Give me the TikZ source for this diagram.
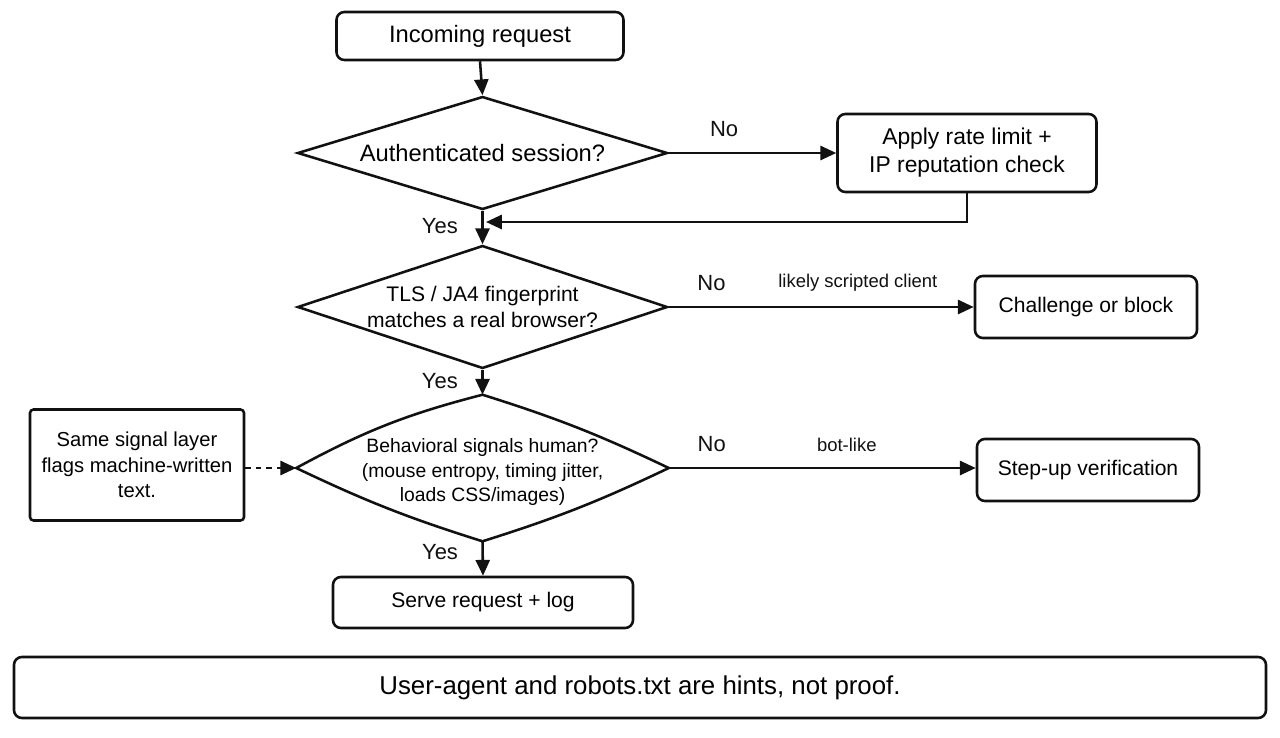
\documentclass[tikz,border=0pt]{standalone}
\usepackage{fontspec}
\setmainfont{Liberation Sans}
\usepackage{xcolor}
\usepackage{tikz}
\usetikzlibrary{arrows.meta,shapes.geometric}
\definecolor{FlowInk}{HTML}{111111}
\definecolor{FlowPaper}{HTML}{FFFFFF}

\tikzset{
  box/.style={draw=FlowInk,line width=1.45pt,rounded corners=4.5pt,fill=FlowPaper,
    align=center,font=\fontsize{12}{15}\selectfont,inner sep=0pt},
  decision/.style={draw=FlowInk,line width=1.45pt,diamond,inner sep=0pt,fill=FlowPaper},
  dtext/.style={align=center,inner sep=0pt,font=\fontsize{12}{15}\selectfont},
  arrow/.style={draw=FlowInk,line width=1.45pt,-{Triangle[length=9pt,width=8pt]}},
  answer/.style={font=\fontsize{12.5}{14}\selectfont,text=FlowInk},
  reason/.style={font=\fontsize{10.5}{12}\selectfont,text=FlowInk},
}

\begin{document}
\begin{tikzpicture}
    \useasboundingbox[fill=FlowPaper] (0,0) rectangle (25.6,-14.74);

    % main column
    \node[box,minimum width=5.74cm,minimum height=0.96cm,font=\fontsize{13.5}{16}\selectfont] (incoming) at (9.6,-0.72) {Incoming request};
    \node[decision,minimum width=7.4cm,minimum height=2.26cm] (auth) at (9.65,-3.06) {};
    \node[dtext,font=\fontsize{13.5}{16}\selectfont] (authtext) at (auth) {Authenticated session?};
    \node[decision,minimum width=7.4cm,minimum height=2.46cm] (tls) at (9.65,-6.14) {};
    \node[dtext] (tlstext) at (tls) {TLS / JA4 fingerprint\\matches a real browser?};
    % third question: edges bow out a little
    \node[decision,draw=none,fill=none,minimum width=7.4cm,minimum height=2.88cm] (behave) at (9.65,-9.36) {};
    \draw[line width=1.45pt,draw=FlowInk] (behave.west) to[bend left=7] (behave.north)
      to[bend left=4] (behave.east) to[bend left=4] (behave.south)
      to[bend left=4] (behave.west) -- cycle;
    \node[dtext,font=\fontsize{11}{14}\selectfont] (behavetext) at ([yshift=-0.08cm]behave.center) {Behavioral signals human?\\(mouse entropy, timing jitter,\\loads CSS/images)};
    \node[box,minimum width=6.0cm,minimum height=1.02cm] (serve) at (9.66,-12.05) {Serve request + log};

    % side outcomes
    \node[box,minimum width=5.18cm,minimum height=1.56cm,font=\fontsize{13}{16}\selectfont] (ratelimit) at (19.34,-3.06) {Apply rate limit +\\IP reputation check};
    \node[box,minimum width=4.44cm,minimum height=1.24cm] (challenge) at (21.72,-6.14) {Challenge or block};
    \node[box,minimum width=4.44cm,minimum height=1.24cm] (stepup) at (21.76,-9.4) {Step-up verification};
    \node[box,rounded corners=2pt,minimum width=4.28cm,minimum height=2.22cm,font=\fontsize{11.5}{14.5}\selectfont] (sidenote) at (2.74,-9.3) {Same signal layer\\flags machine-written\\text.};

    % footer
    \node[box,minimum width=25.04cm,minimum height=1.22cm,font=\fontsize{14.7}{17}\selectfont] (footer) at (12.8,-13.75) {User-agent and robots.txt are hints, not proof.};

    \coordinate (rejoin) at (9.72,-4.44);

    \draw[arrow] (incoming.south) -- (auth.north);
    \draw[arrow] (auth.south) -- node[answer,left=10pt,pos=0.45] {Yes} (tls.north);
    \draw[arrow] (tls.south) -- node[answer,left=10pt,pos=0.45] {Yes} (behave.north);
    \draw[arrow] (behave.south) -- node[answer,left=10pt,pos=0.3] {Yes} (serve.north);
    \draw[arrow] (auth.east) -- node[answer,above=5pt,pos=0.33] {No} (ratelimit.west);
    \draw[arrow] (ratelimit.south) |- (rejoin);
    \draw[arrow] (tls.east) -- node[answer,above=5pt,pos=0.14] {No}
      node[reason,above=5pt,pos=0.62] {likely scripted client} (challenge.west);
    \draw[arrow] (behave.east) -- node[answer,above=5pt,pos=0.14] {No}
      node[reason,above=5pt,pos=0.58] {bot-like} (stepup.west |- behave.east);
    \draw[arrow,dashed] (sidenote.east |- behave.west) -- (behave.west);
  \end{tikzpicture}
\end{document}
